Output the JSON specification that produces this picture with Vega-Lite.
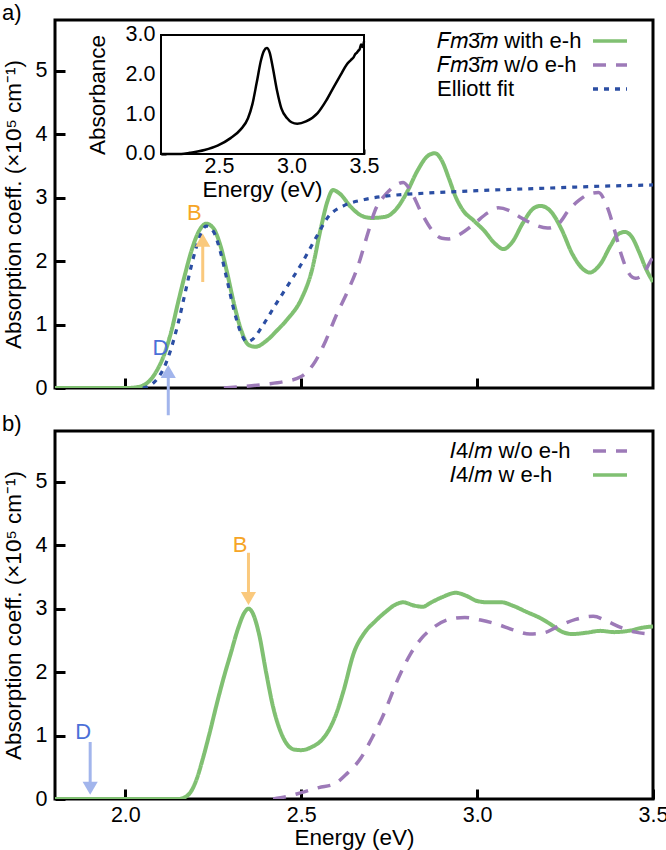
{
  "$schema": "https://vega.github.io/schema/vega-lite/v6.json",
  "padding": {"left": 0, "top": 0, "right": 0, "bottom": 0},
  "bounds": "flush",
  "spacing": 43,
  "config": {
    "font": "Liberation Sans",
    "view": {"stroke": "black", "strokeWidth": 3},
    "axis": {"grid": false, "domain": false, "labelFontSize": 21.5, "titleFontSize": 22.5, "titleFontWeight": "normal", "labelColor": "black", "titleColor": "black", "tickColor": "black", "tickWidth": 3, "labelFont": "Liberation Sans", "titleFont": "Liberation Sans", "labelFlush": false},
    "legend": {"labelFont": "Liberation Sans", "labelFontSize": 22, "labelColor": "black"},
    "title": {"font": "Liberation Sans", "fontSize": 22, "fontWeight": "normal", "color": "black"}
  },
  "resolve": {"scale": {"x": "independent", "y": "independent", "color": "independent", "strokeDash": "independent"}},
  "datasets": {
    "a": [
      {"s":"with","x":1.80,"y":0},{"s":"with","x":1.95,"y":0},{"s":"with","x":2.00,"y":0},{"s":"with","x":2.03,"y":0.01},{"s":"with","x":2.05,"y":0.04},{"s":"with","x":2.07,"y":0.12},{"s":"with","x":2.09,"y":0.28},{"s":"with","x":2.11,"y":0.52},{"s":"with","x":2.13,"y":0.88},{"s":"with","x":2.15,"y":1.35},{"s":"with","x":2.17,"y":1.8},{"s":"with","x":2.19,"y":2.2},{"s":"with","x":2.21,"y":2.48},{"s":"with","x":2.23,"y":2.59},{"s":"with","x":2.25,"y":2.52},{"s":"with","x":2.27,"y":2.25},{"s":"with","x":2.29,"y":1.8},{"s":"with","x":2.31,"y":1.3},{"s":"with","x":2.33,"y":0.9},{"s":"with","x":2.35,"y":0.68},{"s":"with","x":2.37,"y":0.65},{"s":"with","x":2.40,"y":0.74},{"s":"with","x":2.43,"y":0.9},{"s":"with","x":2.46,"y":1.08},{"s":"with","x":2.50,"y":1.4},{"s":"with","x":2.53,"y":1.85},{"s":"with","x":2.555,"y":2.5},{"s":"with","x":2.575,"y":2.95},{"s":"with","x":2.59,"y":3.12},{"s":"with","x":2.61,"y":3.06},{"s":"with","x":2.64,"y":2.86},{"s":"with","x":2.67,"y":2.72},{"s":"with","x":2.70,"y":2.68},{"s":"with","x":2.74,"y":2.7},{"s":"with","x":2.77,"y":2.82},{"s":"with","x":2.80,"y":3.08},{"s":"with","x":2.83,"y":3.42},{"s":"with","x":2.86,"y":3.66},{"s":"with","x":2.88,"y":3.7},{"s":"with","x":2.90,"y":3.58},{"s":"with","x":2.92,"y":3.3},{"s":"with","x":2.94,"y":3.0},{"s":"with","x":2.96,"y":2.8},{"s":"with","x":2.99,"y":2.64},{"s":"with","x":3.02,"y":2.48},{"s":"with","x":3.05,"y":2.28},{"s":"with","x":3.075,"y":2.19},{"s":"with","x":3.10,"y":2.3},{"s":"with","x":3.13,"y":2.6},{"s":"with","x":3.16,"y":2.83},{"s":"with","x":3.18,"y":2.87},{"s":"with","x":3.21,"y":2.78},{"s":"with","x":3.24,"y":2.5},{"s":"with","x":3.27,"y":2.12},{"s":"with","x":3.30,"y":1.88},{"s":"with","x":3.32,"y":1.82},{"s":"with","x":3.35,"y":1.95},{"s":"with","x":3.38,"y":2.25},{"s":"with","x":3.40,"y":2.42},{"s":"with","x":3.42,"y":2.46},{"s":"with","x":3.44,"y":2.38},{"s":"with","x":3.46,"y":2.15},{"s":"with","x":3.48,"y":1.88},{"s":"with","x":3.50,"y":1.67},
      {"s":"wo","x":2.28,"y":0},{"s":"wo","x":2.33,"y":0.02},{"s":"wo","x":2.40,"y":0.06},{"s":"wo","x":2.45,"y":0.1},{"s":"wo","x":2.50,"y":0.18},{"s":"wo","x":2.54,"y":0.42},{"s":"wo","x":2.57,"y":0.75},{"s":"wo","x":2.60,"y":1.15},{"s":"wo","x":2.63,"y":1.5},{"s":"wo","x":2.66,"y":1.9},{"s":"wo","x":2.69,"y":2.45},{"s":"wo","x":2.71,"y":2.8},{"s":"wo","x":2.74,"y":3.05},{"s":"wo","x":2.77,"y":3.2},{"s":"wo","x":2.79,"y":3.24},{"s":"wo","x":2.81,"y":3.12},{"s":"wo","x":2.84,"y":2.78},{"s":"wo","x":2.87,"y":2.5},{"s":"wo","x":2.90,"y":2.36},{"s":"wo","x":2.92,"y":2.35},{"s":"wo","x":2.95,"y":2.42},{"s":"wo","x":2.99,"y":2.58},{"s":"wo","x":3.03,"y":2.76},{"s":"wo","x":3.06,"y":2.84},{"s":"wo","x":3.09,"y":2.8},{"s":"wo","x":3.12,"y":2.7},{"s":"wo","x":3.16,"y":2.58},{"s":"wo","x":3.20,"y":2.52},{"s":"wo","x":3.23,"y":2.58},{"s":"wo","x":3.26,"y":2.8},{"s":"wo","x":3.29,"y":2.96},{"s":"wo","x":3.32,"y":3.06},{"s":"wo","x":3.345,"y":3.08},{"s":"wo","x":3.37,"y":2.85},{"s":"wo","x":3.39,"y":2.5},{"s":"wo","x":3.41,"y":2.1},{"s":"wo","x":3.43,"y":1.82},{"s":"wo","x":3.45,"y":1.73},{"s":"wo","x":3.47,"y":1.78},{"s":"wo","x":3.49,"y":1.97},{"s":"wo","x":3.50,"y":2.07},
      {"s":"fit","x":2.05,"y":0},{"s":"fit","x":2.07,"y":0.04},{"s":"fit","x":2.09,"y":0.14},{"s":"fit","x":2.11,"y":0.32},{"s":"fit","x":2.13,"y":0.62},{"s":"fit","x":2.15,"y":1.02},{"s":"fit","x":2.17,"y":1.5},{"s":"fit","x":2.19,"y":1.98},{"s":"fit","x":2.21,"y":2.36},{"s":"fit","x":2.23,"y":2.55},{"s":"fit","x":2.25,"y":2.47},{"s":"fit","x":2.27,"y":2.15},{"s":"fit","x":2.29,"y":1.68},{"s":"fit","x":2.31,"y":1.2},{"s":"fit","x":2.33,"y":0.85},{"s":"fit","x":2.345,"y":0.73},{"s":"fit","x":2.36,"y":0.76},{"s":"fit","x":2.39,"y":0.98},{"s":"fit","x":2.42,"y":1.25},{"s":"fit","x":2.46,"y":1.6},{"s":"fit","x":2.50,"y":1.95},{"s":"fit","x":2.54,"y":2.35},{"s":"fit","x":2.58,"y":2.72},{"s":"fit","x":2.62,"y":2.87},{"s":"fit","x":2.68,"y":2.97},{"s":"fit","x":2.75,"y":3.03},{"s":"fit","x":2.85,"y":3.07},{"s":"fit","x":3.0,"y":3.11},{"s":"fit","x":3.2,"y":3.15},{"s":"fit","x":3.35,"y":3.18},{"s":"fit","x":3.5,"y":3.2}
    ],
    "b": [
      {"s":"wo","x":2.42,"y":0},{"s":"wo","x":2.46,"y":0.04},{"s":"wo","x":2.50,"y":0.1},{"s":"wo","x":2.55,"y":0.18},{"s":"wo","x":2.595,"y":0.24},{"s":"wo","x":2.63,"y":0.4},{"s":"wo","x":2.67,"y":0.65},{"s":"wo","x":2.70,"y":0.95},{"s":"wo","x":2.73,"y":1.28},{"s":"wo","x":2.775,"y":1.89},{"s":"wo","x":2.81,"y":2.28},{"s":"wo","x":2.84,"y":2.52},{"s":"wo","x":2.88,"y":2.72},{"s":"wo","x":2.92,"y":2.83},{"s":"wo","x":2.965,"y":2.86},{"s":"wo","x":3.01,"y":2.82},{"s":"wo","x":3.06,"y":2.75},{"s":"wo","x":3.10,"y":2.67},{"s":"wo","x":3.15,"y":2.6},{"s":"wo","x":3.19,"y":2.62},{"s":"wo","x":3.23,"y":2.72},{"s":"wo","x":3.28,"y":2.83},{"s":"wo","x":3.33,"y":2.88},{"s":"wo","x":3.37,"y":2.8},{"s":"wo","x":3.41,"y":2.7},{"s":"wo","x":3.45,"y":2.63},{"s":"wo","x":3.50,"y":2.6},
      {"s":"with","x":1.80,"y":0},{"s":"with","x":2.10,"y":0},{"s":"with","x":2.15,"y":0},{"s":"with","x":2.17,"y":0.03},{"s":"with","x":2.19,"y":0.15},{"s":"with","x":2.205,"y":0.35},{"s":"with","x":2.22,"y":0.63},{"s":"with","x":2.24,"y":1.05},{"s":"with","x":2.26,"y":1.5},{"s":"with","x":2.28,"y":1.92},{"s":"with","x":2.30,"y":2.3},{"s":"with","x":2.32,"y":2.68},{"s":"with","x":2.34,"y":2.95},{"s":"with","x":2.35,"y":3.0},{"s":"with","x":2.36,"y":2.95},{"s":"with","x":2.38,"y":2.6},{"s":"with","x":2.40,"y":2.0},{"s":"with","x":2.42,"y":1.45},{"s":"with","x":2.44,"y":1.08},{"s":"with","x":2.46,"y":0.86},{"s":"with","x":2.48,"y":0.78},{"s":"with","x":2.50,"y":0.77},{"s":"with","x":2.53,"y":0.82},{"s":"with","x":2.56,"y":0.94},{"s":"with","x":2.58,"y":1.1},{"s":"with","x":2.60,"y":1.35},{"s":"with","x":2.62,"y":1.7},{"s":"with","x":2.65,"y":2.31},{"s":"with","x":2.68,"y":2.62},{"s":"with","x":2.71,"y":2.8},{"s":"with","x":2.74,"y":2.95},{"s":"with","x":2.77,"y":3.07},{"s":"with","x":2.79,"y":3.1},{"s":"with","x":2.82,"y":3.05},{"s":"with","x":2.845,"y":3.03},{"s":"with","x":2.87,"y":3.1},{"s":"with","x":2.90,"y":3.18},{"s":"with","x":2.94,"y":3.25},{"s":"with","x":2.97,"y":3.2},{"s":"with","x":3.00,"y":3.12},{"s":"with","x":3.03,"y":3.1},{"s":"with","x":3.07,"y":3.1},{"s":"with","x":3.10,"y":3.05},{"s":"with","x":3.14,"y":2.95},{"s":"with","x":3.18,"y":2.85},{"s":"with","x":3.21,"y":2.75},{"s":"with","x":3.24,"y":2.64},{"s":"with","x":3.27,"y":2.6},{"s":"with","x":3.31,"y":2.62},{"s":"with","x":3.35,"y":2.65},{"s":"with","x":3.39,"y":2.63},{"s":"with","x":3.43,"y":2.65},{"s":"with","x":3.47,"y":2.7},{"s":"with","x":3.50,"y":2.72}
    ],
    "inset": [
      {"x":2.10,"y":0},{"x":2.24,"y":0},{"x":2.30,"y":0.03},{"x":2.40,"y":0.1},{"x":2.49,"y":0.21},{"x":2.58,"y":0.4},{"x":2.65,"y":0.62},{"x":2.70,"y":0.9},{"x":2.73,"y":1.25},{"x":2.76,"y":1.8},{"x":2.79,"y":2.37},{"x":2.81,"y":2.6},{"x":2.83,"y":2.67},{"x":2.85,"y":2.55},{"x":2.87,"y":2.2},{"x":2.90,"y":1.6},{"x":2.93,"y":1.15},{"x":2.97,"y":0.9},{"x":3.00,"y":0.8},{"x":3.04,"y":0.76},{"x":3.10,"y":0.82},{"x":3.18,"y":1.03},{"x":3.24,"y":1.35},{"x":3.29,"y":1.68},{"x":3.34,"y":2.0},{"x":3.38,"y":2.25},{"x":3.41,"y":2.37},{"x":3.43,"y":2.45},{"x":3.44,"y":2.52},{"x":3.45,"y":2.55},{"x":3.46,"y":2.6},{"x":3.47,"y":2.64},{"x":3.48,"y":2.76},{"x":3.49,"y":2.7},{"x":3.50,"y":2.84}
    ],
    "insetbox": [{"x1":2.1,"x2":3.5,"y1":0,"y2":3}],
    "arrows_a": [
      {"lab":"B","x":2.22,"y1":1.67,"y2":2.3,"yh":2.33,"xl":2.196,"yl":2.76},
      {"lab":"D","x":2.122,"y1":-0.43,"y2":0.2,"yh":0.26,"xl":2.1,"yl":0.63}
    ],
    "arrows_b": [
      {"lab":"B","x":2.35,"y1":3.88,"y2":3.2,"yh":3.16,"xl":2.326,"yl":4.0},
      {"lab":"D","x":1.9,"y1":0.9,"y2":0.25,"yh":0.17,"xl":1.88,"yl":1.05}
    ]
  },
  "vconcat": [
    {
      "width": 598, "height": 368,
      "title": {"text": "a)", "anchor": "start", "frame": "bounds", "offset": -5},
      "resolve": {"scale": {"x": "independent", "y": "independent"}},
      "layer": [
        {
          "data": {"name": "a"},
          "encoding": {
            "x": {"field": "x", "type": "quantitative", "scale": {"domain": [1.8, 3.5], "nice": false, "zero": false},
                  "axis": {"values": [2.0, 2.5, 3.0], "labels": false, "tickSize": -10, "title": null}},
            "y": {"field": "y", "type": "quantitative", "scale": {"domain": [0, 5.8], "nice": false},
                  "axis": {"values": [0, 1, 2, 3, 4, 5], "format": "d", "tickSize": -10, "labelPadding": 18, "title": "Absorption coeff. (×10⁵ cm⁻¹)", "titlePadding": 10}},
            "color": {"field": "s", "type": "nominal", "scale": {"domain": ["with", "wo", "fit"], "range": ["#80c072", "#9d7ab8", "#2b4ea3"]},
                      "legend": {"title": null, "orient": "none", "legendX": 544, "legendY": 10, "labelOffset": -184, "labelLimit": 400, "symbolType": "M-2,0H2", "symbolSize": 289, "symbolStrokeWidth": 3.5, "symbolFillColor": "transparent", "rowPadding": 2, "padding": 0,
                                 "labelExpr": "datum.label === 'with' ? '𝐹𝑚3̄𝑚 with e-h' : datum.label === 'wo' ? '𝐹𝑚3̄𝑚 w/o e-h' : 'Elliott fit'"}},
            "strokeDash": {"field": "s", "type": "nominal", "scale": {"domain": ["with", "wo", "fit"], "range": [[1, 0], [13, 10], [5, 6]]},
                      "legend": {"title": null, "orient": "none", "legendX": 544, "legendY": 10, "labelOffset": -184, "labelLimit": 400, "symbolType": "M-2,0H2", "symbolSize": 289, "symbolStrokeWidth": 3.5, "symbolFillColor": "transparent", "rowPadding": 2, "padding": 0,
                                 "labelExpr": "datum.label === 'with' ? '𝐹𝑚3̄𝑚 with e-h' : datum.label === 'wo' ? '𝐹𝑚3̄𝑚 w/o e-h' : 'Elliott fit'"}}
          },
          "layer": [
            {"transform": [{"filter": "datum.s === 'with'"}], "mark": {"type": "line", "interpolate": "monotone", "strokeWidth": 4, "clip": true}},
            {"transform": [{"filter": "datum.s === 'wo'"}], "mark": {"type": "line", "interpolate": "monotone", "strokeWidth": 3.5, "clip": true}},
            {"transform": [{"filter": "datum.s === 'fit'"}], "mark": {"type": "line", "interpolate": "monotone", "strokeWidth": 3.2, "clip": true}},
            {
              "data": {"name": "arrows_a"},
              "transform": [{"filter": "datum.lab === 'B'"}],
              "layer": [
                {"mark": {"type": "rule", "strokeWidth": 3}, "encoding": {"x": {"field": "x", "type": "quantitative"}, "y": {"field": "y1", "type": "quantitative"}, "y2": {"field": "y2"}, "color": {"value": "#fac97d"}, "strokeDash": {"value": [1, 0]}}},
                {"mark": {"type": "point", "shape": "triangle-up", "filled": true, "size": 230, "opacity": 1}, "encoding": {"x": {"field": "x", "type": "quantitative"}, "y": {"field": "yh", "type": "quantitative"}, "color": {"value": "#fac97d"}, "strokeDash": {"value": [1, 0]}}},
                {"mark": {"type": "text", "fontSize": 22, "baseline": "middle", "align": "center"}, "encoding": {"x": {"field": "xl", "type": "quantitative"}, "y": {"field": "yl", "type": "quantitative"}, "text": {"field": "lab"}, "color": {"value": "#f6a526"}, "strokeDash": {"value": [1, 0]}}}
              ]
            },
            {
              "data": {"name": "arrows_a"},
              "transform": [{"filter": "datum.lab === 'D'"}],
              "layer": [
                {"mark": {"type": "rule", "strokeWidth": 3}, "encoding": {"x": {"field": "x", "type": "quantitative"}, "y": {"field": "y1", "type": "quantitative"}, "y2": {"field": "y2"}, "color": {"value": "#a2b5ec"}, "strokeDash": {"value": [1, 0]}}},
                {"mark": {"type": "point", "shape": "triangle-up", "filled": true, "size": 230, "opacity": 1}, "encoding": {"x": {"field": "x", "type": "quantitative"}, "y": {"field": "yh", "type": "quantitative"}, "color": {"value": "#a2b5ec"}, "strokeDash": {"value": [1, 0]}}},
                {"mark": {"type": "text", "fontSize": 22, "baseline": "middle", "align": "center"}, "encoding": {"x": {"field": "xl", "type": "quantitative"}, "y": {"field": "yl", "type": "quantitative"}, "text": {"field": "lab"}, "color": {"value": "#4b70d8"}, "strokeDash": {"value": [1, 0]}}}
              ]
            }
          ]
        },
        {
          "layer": [
            {
              "data": {"name": "insetbox"},
              "mark": {"type": "rect", "fill": "white", "stroke": "black", "strokeWidth": 2},
              "encoding": {
                "x": {"field": "x1", "type": "quantitative", "scale": {"domain": [1.369, 5.493], "nice": false, "zero": false},
                      "axis": {"orient": "bottom", "offset": -234, "values": [2.5, 3.0, 3.5], "format": ".1f", "tickSize": -5, "tickWidth": 2, "labelPadding": 6, "title": "Energy (eV)", "titleX": 207, "titlePadding": 2}},
                "x2": {"field": "x2"},
                "y": {"field": "y1", "type": "quantitative", "scale": {"domain": [-5.899, 3.378], "nice": false, "zero": false},
                      "axis": {"orient": "left", "offset": -106, "values": [0, 1, 2, 3], "format": ".1f", "tickSize": -5, "tickWidth": 2, "labelPadding": 11, "title": "Absorbance", "titleY": 74.5, "titlePadding": 16}},
                "y2": {"field": "y2"}
              }
            },
            {
              "data": {"name": "inset"},
              "mark": {"type": "line", "color": "black", "strokeWidth": 2.5, "interpolate": "monotone"},
              "encoding": {"x": {"field": "x", "type": "quantitative"}, "y": {"field": "y", "type": "quantitative"}}
            }
          ]
        }
      ]
    },
    {
      "width": 598, "height": 368,
      "title": {"text": "b)", "anchor": "start", "frame": "bounds", "offset": -5},
      "layer": [
        {
          "data": {"name": "b"},
          "encoding": {
            "x": {"field": "x", "type": "quantitative", "scale": {"domain": [1.8, 3.5], "nice": false, "zero": false},
                  "axis": {"values": [2.0, 2.5, 3.0, 3.5], "format": ".1f", "tickSize": -10, "labelPadding": 15, "title": "Energy (eV)", "titlePadding": 1}},
            "y": {"field": "y", "type": "quantitative", "scale": {"domain": [0, 5.8], "nice": false},
                  "axis": {"values": [0, 1, 2, 3, 4, 5], "format": "d", "tickSize": -10, "labelPadding": 18, "title": "Absorption coeff. (×10⁵ cm⁻¹)", "titlePadding": 10}},
            "color": {"field": "s", "type": "nominal", "scale": {"domain": ["wo", "with"], "range": ["#9d7ab8", "#80c072"]},
                      "legend": {"title": null, "orient": "none", "legendX": 544, "legendY": 9, "labelOffset": -171, "labelLimit": 400, "symbolType": "M-2,0H2", "symbolSize": 289, "symbolStrokeWidth": 3.5, "symbolFillColor": "transparent", "rowPadding": 2, "padding": 0,
                                 "labelExpr": "datum.label === 'wo' ? '𝐼4/𝑚 w/o e-h' : '𝐼4/𝑚 w e-h'"}},
            "strokeDash": {"field": "s", "type": "nominal", "scale": {"domain": ["wo", "with"], "range": [[13, 10], [1, 0]]},
                      "legend": {"title": null, "orient": "none", "legendX": 544, "legendY": 9, "labelOffset": -171, "labelLimit": 400, "symbolType": "M-2,0H2", "symbolSize": 289, "symbolStrokeWidth": 3.5, "symbolFillColor": "transparent", "rowPadding": 2, "padding": 0,
                                 "labelExpr": "datum.label === 'wo' ? '𝐼4/𝑚 w/o e-h' : '𝐼4/𝑚 w e-h'"}}
          },
          "layer": [
            {"transform": [{"filter": "datum.s === 'with'"}], "mark": {"type": "line", "interpolate": "monotone", "strokeWidth": 4, "clip": true}},
            {"transform": [{"filter": "datum.s === 'wo'"}], "mark": {"type": "line", "interpolate": "monotone", "strokeWidth": 3.5, "clip": true}}
          ]
        },
        {
          "data": {"name": "arrows_b"},
          "transform": [{"filter": "datum.lab === 'B'"}],
          "layer": [
            {"mark": {"type": "rule", "strokeWidth": 3}, "encoding": {"x": {"field": "x", "type": "quantitative"}, "y": {"field": "y1", "type": "quantitative"}, "y2": {"field": "y2"}, "color": {"value": "#fac97d"}, "strokeDash": {"value": [1, 0]}}},
            {"mark": {"type": "point", "shape": "triangle-down", "filled": true, "size": 230, "opacity": 1}, "encoding": {"x": {"field": "x", "type": "quantitative"}, "y": {"field": "yh", "type": "quantitative"}, "color": {"value": "#fac97d"}, "strokeDash": {"value": [1, 0]}}},
            {"mark": {"type": "text", "fontSize": 22, "baseline": "middle", "align": "center"}, "encoding": {"x": {"field": "xl", "type": "quantitative"}, "y": {"field": "yl", "type": "quantitative"}, "text": {"field": "lab"}, "color": {"value": "#f6a526"}, "strokeDash": {"value": [1, 0]}}}
          ]
        },
        {
          "data": {"name": "arrows_b"},
          "transform": [{"filter": "datum.lab === 'D'"}],
          "layer": [
            {"mark": {"type": "rule", "strokeWidth": 3}, "encoding": {"x": {"field": "x", "type": "quantitative"}, "y": {"field": "y1", "type": "quantitative"}, "y2": {"field": "y2"}, "color": {"value": "#a2b5ec"}, "strokeDash": {"value": [1, 0]}}},
            {"mark": {"type": "point", "shape": "triangle-down", "filled": true, "size": 230, "opacity": 1}, "encoding": {"x": {"field": "x", "type": "quantitative"}, "y": {"field": "yh", "type": "quantitative"}, "color": {"value": "#a2b5ec"}, "strokeDash": {"value": [1, 0]}}},
            {"mark": {"type": "text", "fontSize": 22, "baseline": "middle", "align": "center"}, "encoding": {"x": {"field": "xl", "type": "quantitative"}, "y": {"field": "yl", "type": "quantitative"}, "text": {"field": "lab"}, "color": {"value": "#4b70d8"}, "strokeDash": {"value": [1, 0]}}}
          ]
        }
      ]
    }
  ]
}
